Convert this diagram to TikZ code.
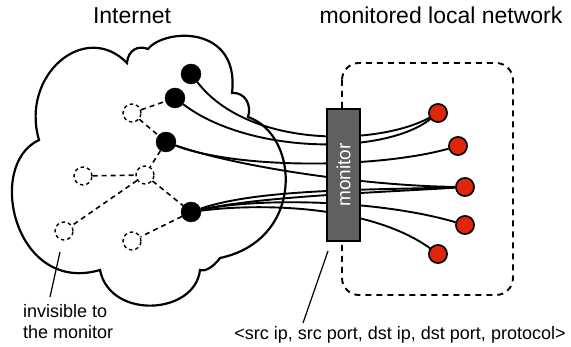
\documentclass[tikz,border=0pt]{standalone}
\usepackage{fontspec}
\setmainfont{Liberation Sans}
\definecolor{mongray}{RGB}{96,96,96}
\definecolor{hostred}{RGB}{222,38,8}
\begin{document}
\begin{tikzpicture}[x=1pt,y=-1pt,
  blk/.style={circle,fill=black,draw=black,minimum size=20pt,inner sep=0pt},
  hid/.style={circle,draw=black,line width=1.4pt,dash pattern=on 3.5pt off 3pt,minimum size=18pt,inner sep=0pt},
  host/.style={circle,fill=hostred,draw=black,line width=1.5pt,minimum size=18pt,inner sep=0pt},
  hidedge/.style={line width=1.6pt,dash pattern=on 5pt off 4pt},
  conn/.style={line width=1.9pt},
  titlefont/.style={font=\fontsize{23}{27}\selectfont},
  labelfont/.style={font=\fontsize{18}{21}\selectfont}]
\useasboundingbox (0,0) rectangle (571,347);

% titles
\node[titlefont,anchor=base,inner sep=0pt] (tInternet) at (132,24) {Internet};
\node[titlefont,anchor=base,inner sep=0pt] (tLocal) at (441,24) {monitored local network};

% cloud
\draw[line width=2.2pt,fill=white]
  (39,140) .. controls (20,75) and (85,20) .. (127,63)
  .. controls (128,50) and (138,45) .. (148,49)
  .. controls (165,28) and (240,25) .. (232,93)
  .. controls (245,92) and (252,105) .. (248,117)
  .. controls (300,135) and (305,240) .. (220,258)
  .. controls (214,266) and (206,272) .. (200,270)
  .. controls (195,315) and (110,320) .. (100,270)
  .. controls (15,295) and (-15,165) .. (39,140) -- cycle;

% local network box
\draw[line width=1.9pt,dash pattern=on 6pt off 5pt,rounded corners=17pt]
  (342,63) rectangle (513,295);

% nodes
\node[blk] (N1) at (191,74) {};
\node[blk] (N2) at (175,98) {};
\node[blk] (N3) at (166,142) {};
\node[blk] (N4) at (191,212) {};
\node[hid] (D1) at (132,113) {};
\node[hid] (D2) at (83,176) {};
\node[hid] (D3) at (145,175) {};
\node[hid] (D4) at (64,231) {};
\node[hid] (D5) at (132,241) {};

\node[host] (R1) at (438,113) {};
\node[host] (R2) at (458,146) {};
\node[host] (R3) at (465,187) {};
\node[host] (R4) at (465,225) {};
\node[host] (R5) at (438,254) {};

% hidden links
\draw[hidedge] (D1) -- (N2);
\draw[hidedge] (D1) -- (N3);
\draw[hidedge] (N3) -- (D3);
\draw[hidedge] (D2) -- (D3);
\draw[hidedge] (D3) -- (D4);
\draw[hidedge] (D3) -- (N4);
\draw[hidedge] (N4) -- (D5);

% connections
\draw[conn] (N1) .. controls (250,150) and (380,145) .. (R1);
\draw[conn] (N2) .. controls (250,155) and (385,155) .. (R1);
\draw[conn] (N3) .. controls (240,170) and (380,168) .. (R2);
\draw[conn] (N3) .. controls (240,168) and (370,186) .. (R3);
\draw[conn] (N4) .. controls (260,188) and (380,190) .. (R3);
\draw[conn] (N4) .. controls (260,196) and (390,192) .. (R3);
\draw[conn] (N4) .. controls (260,197) and (380,200) .. (R4);
\draw[conn] (N4) .. controls (260,203) and (370,205) .. (R5);

% redraw hosts on top
\foreach \h in {R1,R2,R3,R4,R5} {
  \path (\h) node[host] {};
}

% monitor
\node[rotate=90,draw=black,fill=mongray,line width=1.8pt,minimum width=132pt,minimum height=33pt,inner sep=0pt,text=white,font=\fontsize{19}{22}\selectfont] (mon) at (343.5,175) {monitor};

% labels
\node[labelfont,anchor=north west,align=left,inner sep=0pt] (inv) at (23,304) {invisible to\\the monitor};
\coordinate (invA) at (60,252);
\coordinate (invB) at (50,297);
\draw[line width=1.2pt] (invA) -- (invB);

\node[labelfont,anchor=base,inner sep=0pt] (tuple) at (400,340) {<src ip, src port, dst ip, dst port, protocol>};
\coordinate (monA) at (328,251);
\coordinate (monB) at (303,323);
\draw[line width=1.2pt] (monA) -- (monB);
\end{tikzpicture}
\end{document}
